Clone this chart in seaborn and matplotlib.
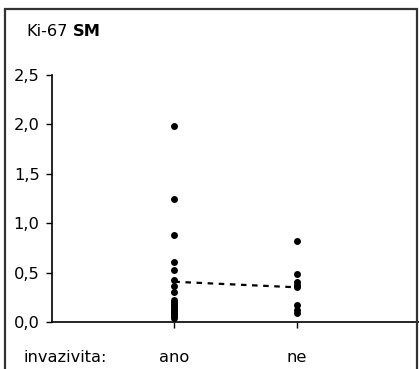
import matplotlib
matplotlib.use('Agg')
import matplotlib.pyplot as plt
import seaborn as sns
import pandas as pd
from matplotlib.patches import Rectangle

categories = ['ano', 'ne']
ano_values = [1.98, 1.25, 0.88, 0.61, 0.53, 0.43, 0.36, 0.30, 0.22, 0.20, 0.18,
              0.16, 0.14, 0.12, 0.11, 0.09, 0.08, 0.06, 0.04]
ne_values = [0.82, 0.49, 0.40, 0.37, 0.35, 0.17, 0.12, 0.09]
ytick_values = [0.0, 0.5, 1.0, 1.5, 2.0, 2.5]
ytick_labels = ['0,0', '0,5', '1,0', '1,5', '2,0', '2,5']
title_plain = 'Ki-67'
title_bold = 'SM'
xlabel_text = 'invazivita:'

FS = 11.7
sns.set_theme(style='white')
plt.rcParams['font.family'] = ['DejaVu Sans']
plt.rcParams['text.color'] = 'black'
plt.rcParams['xtick.color'] = 'black'
plt.rcParams['ytick.color'] = 'black'
plt.rcParams['xtick.labelcolor'] = 'black'
plt.rcParams['ytick.labelcolor'] = 'black'

W, H = 419, 369
fig = plt.figure(figsize=(W / 100, H / 100), dpi=100)

df = pd.DataFrame({
    'pos': [1] * len(ano_values) + [2] * len(ne_values),
    'value': ano_values + ne_values,
})

ax = fig.add_axes([52 / W, (H - 322) / H, (W - 52) / W, (322 - 75) / H])
ax.set_facecolor('none')

sns.lineplot(data=df, x='pos', y='value', estimator='mean', errorbar=None,
             color='black', linewidth=1.6, linestyle=(0, (2.5, 2.5)), ax=ax, zorder=1)
sns.stripplot(data=df, x='pos', y='value', native_scale=True, jitter=False,
              color='black', size=5.0, linewidth=0, ax=ax, zorder=3)

ax.set_xlim(0, 3)
ax.set_ylim(0, 2.5)
ax.set_xticks([1, 2])
ax.set_xticklabels(categories, fontsize=FS, color='black')
ax.set_yticks(ytick_values)
ax.set_yticklabels(ytick_labels, fontsize=FS, color='black')
ax.set_xlabel('')
ax.set_ylabel('')
for s in ['top', 'right']:
    ax.spines[s].set_visible(False)
for s in ['left', 'bottom']:
    ax.spines[s].set_color('black')
    ax.spines[s].set_linewidth(1.2)
ax.tick_params(axis='y', direction='out', length=4, width=1, color='black', pad=5, left=True)
ax.tick_params(axis='x', direction='out', length=4, width=1, color='black', pad=16, bottom=True)

# outer frame
fig.patches.append(Rectangle((5 / W, -0.05), (417 - 5) / W, (H - 9) / H + 0.05,
                             transform=fig.transFigure, fill=False,
                             edgecolor='#333333', linewidth=1.6))

t1 = fig.text(26 / W, (H - 36) / H, title_plain, fontsize=FS, ha='left', va='baseline',
              color='black')
fig.canvas.draw()
bb = t1.get_window_extent(renderer=fig.canvas.get_renderer())
fig.text((bb.x1 + 5) / W, (H - 36) / H, title_bold, fontsize=FS, fontweight='bold',
         ha='left', va='baseline', color='black')
fig.text(23 / W, (H - 361.7) / H, xlabel_text, fontsize=FS, ha='left', va='baseline',
         color='black')

fig.savefig('out.png', dpi=100)
